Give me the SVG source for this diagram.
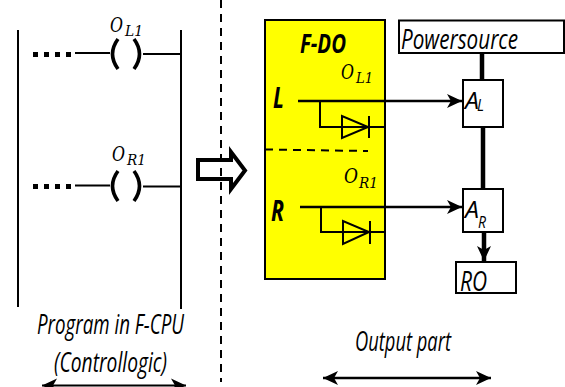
<svg xmlns="http://www.w3.org/2000/svg" width="565" height="387" viewBox="0 0 565 387">
<style>
.w{fill:none;stroke:#000;stroke-width:2}
.v{fill:none;stroke:#000;stroke-width:2.500}
.t{fill:none;stroke:#000;stroke-width:4.500}
.p{fill:none;stroke:#000;stroke-width:3.600}
.d{fill:none;stroke:#000;stroke-width:5;stroke-dasharray:5 6}
.s{fill:none;stroke:#000;stroke-width:2;stroke-dasharray:8 6}
.l{font-family:"Open Sans","Noto Sans",sans-serif;font-style:italic;fill:#000}
.h{font-weight:700}
.m{font-family:"DejaVu Serif","Liberation Serif",serif;font-style:italic;fill:#000;font-size:21px}
.u{font-size:15px}
.b{fill:#fff;stroke:#000;stroke-width:2}
</style>
<defs>
<marker id="a" markerUnits="userSpaceOnUse" markerWidth="16" markerHeight="16" refX="15" refY="8" orient="auto-start-reverse"><path d="M0 1L15 8L0 15L4 8Z" fill="#000"/></marker>
</defs>
<rect width="565" height="387" fill="#fff"/>
<g id="program-rung-left">
<path class="w" d="M18 30V307M181 30V309"/>
<path class="d" d="M33 54.500H71"/>
<path class="w" d="M75 53H110M143 54H181"/>
<path class="p" d="M118 39Q107 54 118 69M134 39Q145 54 134 69"/>
<text class="m" x="110" y="32" textLength="13" lengthAdjust="spacingAndGlyphs">O</text><text class="m u" x="125" y="36" textLength="18" lengthAdjust="spacingAndGlyphs">L1</text>
<path class="d" d="M33 186.500H71"/>
<path class="w" d="M75 185.500H110M143 186.500H181"/>
<path class="p" d="M118 171Q107 186 118 201M134 171Q145 186 134 201"/>
<text class="m" x="112" y="161" textLength="13" lengthAdjust="spacingAndGlyphs">O</text><text class="m u" x="127" y="165" textLength="19" lengthAdjust="spacingAndGlyphs">R1</text>
</g>
<g id="transfer-arrow"><path d="M198 160H231V152L245 170.500L231 189V179H198Z" fill="#fff" stroke="#000" stroke-width="4"/></g>
<g id="separator"><path class="s" d="M221 0V382"/></g>
<g id="f-do">
<rect x="265" y="20" width="120" height="259" fill="#ff0" stroke="#000" stroke-width="2"/>
<text class="l h" x="300" y="53" font-size="27" textLength="46" lengthAdjust="spacingAndGlyphs">F-DO</text>
<text class="l h" x="273" y="108" font-size="29" textLength="11" lengthAdjust="spacingAndGlyphs">L</text>
<text class="l h" x="271" y="221" font-size="28" textLength="13" lengthAdjust="spacingAndGlyphs">R</text>
<text class="m" x="341" y="79" textLength="13" lengthAdjust="spacingAndGlyphs">O</text><text class="m u" x="356" y="83" textLength="17" lengthAdjust="spacingAndGlyphs">L1</text>
<text class="m" x="344" y="183" textLength="14" lengthAdjust="spacingAndGlyphs">O</text><text class="m u" x="359" y="188" textLength="19" lengthAdjust="spacingAndGlyphs">R1</text>
<path class="s" d="M265 149.500L368 151"/>
<path class="w" d="M320 101V127H385M342 116V138L368 127ZM369 116V138"/>
<path class="w" d="M321 207V232H385M343 221V244L369 232ZM370 221V244"/>
</g>
<g id="powersource"><rect class="b" x="399" y="20.500" width="165" height="32.500"/><text class="l" x="401" y="49" font-size="28" textLength="117" lengthAdjust="spacingAndGlyphs">Powersource</text></g>
<g id="a-l"><rect class="b" x="463" y="80" width="40" height="47"/><text class="l" x="465" y="109" font-size="24" textLength="14" lengthAdjust="spacingAndGlyphs">A</text><text class="l" x="477" y="111" font-size="17" textLength="7" lengthAdjust="spacingAndGlyphs">L</text></g>
<g id="a-r"><rect class="b" x="463" y="189" width="40" height="43"/><text class="l" x="465" y="218" font-size="24" textLength="14" lengthAdjust="spacingAndGlyphs">A</text><text class="l" x="478" y="228" font-size="17" textLength="8" lengthAdjust="spacingAndGlyphs">R</text></g>
<g id="ro"><rect class="b" x="456" y="262" width="60" height="31"/><text class="l" x="460" y="291" font-size="28" textLength="27" lengthAdjust="spacingAndGlyphs">RO</text></g>
<g id="connectors">
<path class="t" d="M482 53V80M483 127V189"/>
<path class="v" d="M298 101H462" marker-end="url(#a)"/>
<path class="v" d="M300 207H462" marker-end="url(#a)"/>
<path class="t" d="M484 232V261" marker-end="url(#a)"/>
<path class="v" d="M323 378H491" marker-start="url(#a)" marker-end="url(#a)"/>
<path class="w" d="M42 385.500H186" marker-start="url(#a)" marker-end="url(#a)"/>
</g>
<g id="captions">
<text class="l" x="37" y="334" font-size="27" textLength="147" lengthAdjust="spacingAndGlyphs">Program in F-CPU</text>
<text class="l" x="54" y="372" font-size="27" textLength="113" lengthAdjust="spacingAndGlyphs">(Controllogic)</text>
<text class="l" x="355" y="351" font-size="27" textLength="96" lengthAdjust="spacingAndGlyphs">Output part</text>
</g>
</svg>
